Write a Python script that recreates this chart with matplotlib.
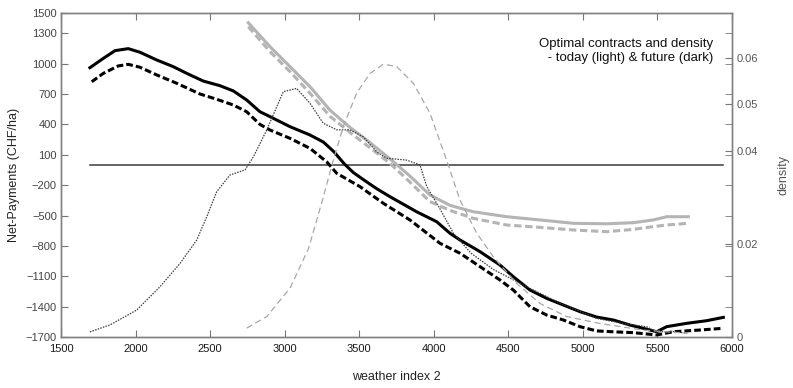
import numpy as np
import matplotlib.pyplot as plt

plt.rcParams['font.family'] = ['Liberation Sans', 'DejaVu Sans']

# optimal contract, future climate (dark)
fut_x = [1694, 1784, 1862, 1951, 2030, 2142, 2253, 2343, 2454, 2566, 2656, 2745,
         2834, 2902, 3036, 3170, 3260, 3330, 3400, 3460, 3527, 3617, 3706, 3885, 4019,
         4109, 4176, 4310, 4444, 4533, 4645, 4757, 4869, 4981, 5092, 5204, 5316,
         5361, 5495, 5562, 5696, 5830, 5942]
fut_y = [960, 1052, 1128, 1148, 1112, 1036, 970, 904, 828, 782, 730, 641,
         525, 476, 377, 295, 225, 130, 10, -75, -145, -235, -314, -463, -561,
         -676, -742, -857, -989, -1104, -1236, -1318, -1384, -1450, -1503, -1532, -1582,
         -1598, -1648, -1598, -1565, -1539, -1506]

fut_dash_x = [1706, 1784, 1884, 1951, 2030, 2142, 2276, 2432, 2544, 2656, 2745, 2834,
              2902, 3036, 3170, 3282, 3349, 3505, 3662, 3840, 4042, 4176, 4310, 4444,
              4533, 4645, 4757, 4869, 4981, 5092, 5226, 5338, 5495, 5606, 5785, 5942]
fut_dash_y = [821, 904, 977, 993, 964, 888, 806, 700, 648, 591, 525, 400,
              344, 262, 163, 30, -83, -215, -380, -544, -775, -873, -1005, -1137,
              -1236, -1401, -1483, -1532, -1598, -1640, -1650, -1657, -1680, -1648, -1631, -1614]

# optimal contract, today (light)
tod_x = [2756, 2902, 3036, 3170, 3304, 3438, 3572, 3706, 3840, 3974, 4109, 4265,
         4489, 4712, 4936, 5159, 5338, 5472, 5562, 5707]
tod_y = [1404, 1167, 970, 772, 540, 370, 220, 60, -110, -297, -400, -463,
         -512, -544, -577, -582, -571, -544, -512, -512]
tod_dash_y = [1365, 1118, 921, 707, 480, 320, 170, 15, -170, -363, -450, -528,
              -594, -617, -643, -660, -637, -610, -594, -577]

# densities
dens_fut_x = [1694, 1829, 2008, 2164, 2298, 2410, 2477, 2544, 2633, 2734, 2790, 2880,
              2991, 3080, 3170, 3259, 3349, 3438, 3527, 3617, 3684, 3818, 3907, 3953,
              4042, 4131, 4250, 4400, 4623, 4824, 5092, 5271, 5428, 5495, 5600, 5700]
dens_fut = [0.0011, 0.0026, 0.0058, 0.0108, 0.0158, 0.0208, 0.0258, 0.0312, 0.0348, 0.0359, 0.0387, 0.0445,
            0.0527, 0.0534, 0.0502, 0.0459, 0.0445, 0.0445, 0.0430, 0.0398, 0.0384, 0.0380, 0.0370, 0.0323,
            0.0275, 0.0223, 0.0180, 0.0145, 0.0108, 0.0076, 0.0040, 0.0029, 0.0022, 0.0011, 0.0012, 0.0008]

dens_tod_x = [2745, 2880, 3036, 3160, 3250, 3326, 3393, 3483, 3572, 3662, 3751, 3863,
              3974, 4086, 4176, 4288, 4400, 4556, 4712, 4891, 5115, 5400, 5700]
dens_tod = [0.0019, 0.0044, 0.0105, 0.0190, 0.0290, 0.0380, 0.0452, 0.0524, 0.0566, 0.0586, 0.0581, 0.0545,
            0.0481, 0.0380, 0.0294, 0.0223, 0.0172, 0.0115, 0.0072, 0.0044, 0.0029, 0.0015, 0.0008]

xticks = [1500, 2000, 2500, 3000, 3500, 4000, 4500, 5000, 5500, 6000]
yticks = [1500, 1300, 1000, 700, 400, 100, -200, -500, -800, -1100, -1400, -1700]
dticks = [0, 0.02, 0.04, 0.05, 0.06]
dticklabels = ['0', '0.02', '0.04', '0.05', '0.06']

ylo, yhi = -1700, 1500
dhi = 0.0696

fig = plt.figure(figsize=(7.93, 3.88), dpi=100)
ax = fig.add_axes([61 / 793, 51 / 388, 671 / 793, 324 / 388])
ax2 = ax.twinx()

ax.plot([fut_x[0], fut_x[-1]], [0, 0], color='#3a3a3a', lw=1.1)
ax.plot(tod_x, tod_y, color='#b4b4b4', lw=2.2)
ax.plot(tod_x, tod_dash_y, color='#b4b4b4', lw=2.2, dashes=(2.4, 1.2))
ax.plot(fut_x, fut_y, color='black', lw=2.2)
ax.plot(fut_dash_x, fut_dash_y, color='black', lw=2.2, dashes=(2.2, 1.0))

ax2.plot(dens_fut_x, dens_fut, color='#3c3c3c', lw=0.9, dashes=(1.2, 1.0))
ax2.plot(dens_tod_x, dens_tod, color='#a8a8a8', lw=0.9, dashes=(5, 3))

ax.set_xlim(1500, 6000)
ax.set_ylim(ylo, yhi)
ax.set_xticks(xticks)
ax.set_yticks(yticks)
ax.tick_params(direction='in', length=5, top=True, right=False, labelsize=8)
ax.tick_params(axis='y', colors='#777777', labelcolor='#444444', pad=3)
ax.tick_params(axis='x', colors='#777777', labelcolor='#1a1a1a', pad=5)

# right axis: density ticks plus the mirrored payment ticks
ax2.set_ylim(0, dhi)
ax2.set_yticks(dticks)
ax2.set_yticklabels(dticklabels)
mirror = [(v - ylo) / (yhi - ylo) * dhi for v in yticks[1:-1]]
ax2.set_yticks(mirror, minor=True)
ax2.tick_params(which='both', direction='in', length=5, labelsize=8, colors='#777777',
                labelcolor='#555555', pad=3)

for a in (ax, ax2):
    for s in a.spines.values():
        s.set_color('#808080')
        s.set_linewidth(1.0)

ax.set_xlabel('weather index 2', fontsize=9, color='#222222', labelpad=12)
ax.set_ylabel('Net-Payments (CHF/ha)', fontsize=9, color='#222222', labelpad=4)
ax2.set_ylabel('density', fontsize=9, color='#555555', labelpad=14)

ax.text(0.972, 0.923, 'Optimal contracts and density\n - today (light) & future (dark)',
        transform=ax.transAxes, ha='right', va='top', fontsize=9.5,
        color='#111111', linespacing=1.25)

fig.savefig('out.png', dpi=100)
